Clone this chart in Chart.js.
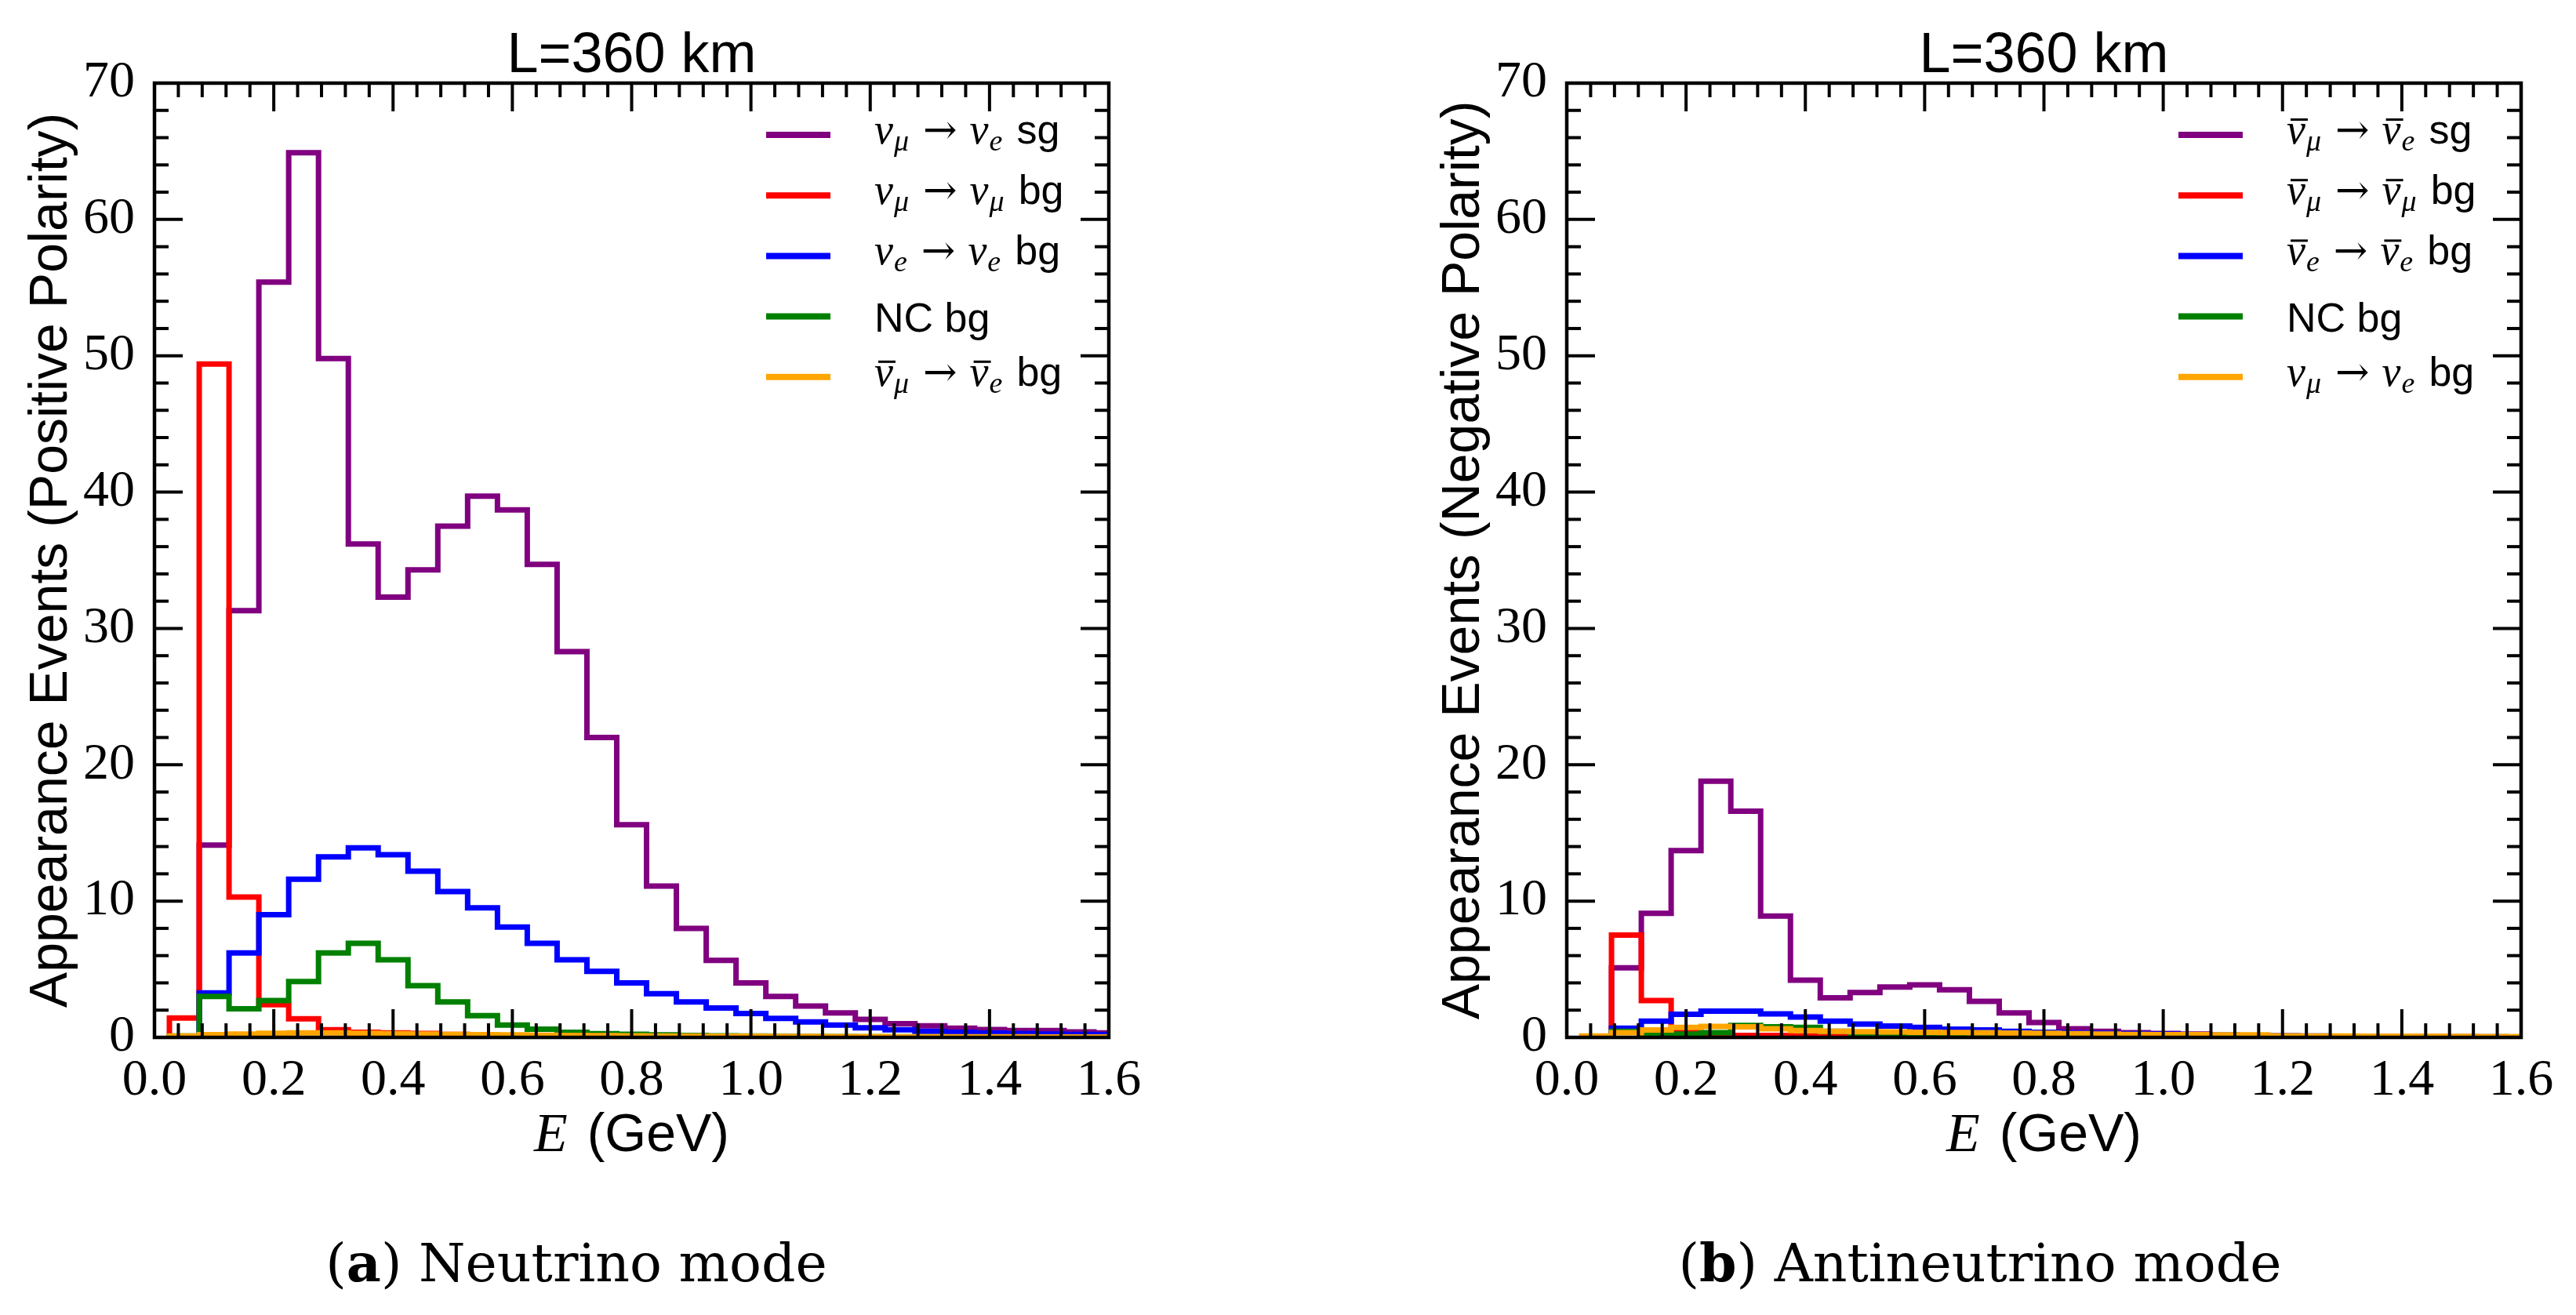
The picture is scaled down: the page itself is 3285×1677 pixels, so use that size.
<!DOCTYPE html>
<html>
<head>
<meta charset="utf-8">
<script src="https://cdn.jsdelivr.net/npm/chart.js@4.4.1/dist/chart.umd.min.js"></script>
<style>
html, body { margin: 0; padding: 0; background: #fff; }
body { width: 3285px; height: 1677px; position: relative; overflow: hidden; }
canvas { position: absolute; top: 0; }
</style>
</head>
<body>
<canvas id="chartA" width="1642" height="1677" style="left:0px"></canvas>
<canvas id="chartB" width="1643" height="1677" style="left:1642px"></canvas>
<script>
// bin edges of the energy histograms (GeV)
const binEdges = [0.025, 0.075, 0.125, 0.175, 0.225, 0.275, 0.325, 0.375, 0.425, 0.475, 0.525,
  0.575, 0.625, 0.675, 0.725, 0.775, 0.825, 0.875, 0.925, 0.975, 1.025, 1.075, 1.125, 1.175,
  1.225, 1.275, 1.325, 1.375, 1.425, 1.475, 1.525, 1.575, 1.625];

const xTickLabels = ['0.0', '0.2', '0.4', '0.6', '0.8', '1.0', '1.2', '1.4', '1.6'];
const yTickLabels = ['0', '10', '20', '30', '40', '50', '60', '70'];

// (a) neutrino mode
const sigA   = [0, 14.1, 31.3, 55.4, 64.9, 49.8, 36.2, 32.3, 34.3, 37.5, 39.7, 38.7, 34.7, 28.3, 22.0, 15.6,
  11.1, 8.0, 5.65, 4.0, 3.0, 2.3, 1.8, 1.33, 1.0, 0.85, 0.67, 0.58, 0.5, 0.5, 0.4, 0.33];
const numuA  = [1.42, 49.4, 10.3, 2.4, 1.37, 0.56, 0.38, 0.33, 0.29, 0.22, 0.18, 0.15, 0.12, 0.1, 0.08, 0.06,
  0.05, 0.04, 0.03, 0.03, 0.02, 0.02, 0.02, 0.01, 0.01, 0.01, 0.01, 0.01, 0.01, 0.01, 0.01, 0.01];
const nueA   = [0, 3.27, 6.2, 9.0, 11.6, 13.25, 13.9, 13.4, 12.2, 10.7, 9.5, 8.1, 6.9, 5.7, 4.85, 4.0,
  3.2, 2.6, 2.15, 1.75, 1.4, 1.13, 0.9, 0.71, 0.56, 0.44, 0.37, 0.31, 0.27, 0.25, 0.22, 0.2];
const ncA    = [0.1, 3.0, 2.1, 2.7, 4.1, 6.2, 6.9, 5.7, 3.8, 2.6, 1.6, 0.9, 0.6, 0.37, 0.27, 0.23,
  0.18, 0.15, 0.12, 0.1, 0.08, 0.07, 0.06, 0.05, 0.04, 0.04, 0.03, 0.03, 0.03, 0.02, 0.02, 0.02];
const wrongA = [0.1, 0.2, 0.25, 0.3, 0.33, 0.33, 0.3, 0.28, 0.25, 0.22, 0.2, 0.18, 0.16, 0.15, 0.13, 0.12,
  0.1, 0.1, 0.09, 0.08, 0.07, 0.07, 0.06, 0.06, 0.05, 0.05, 0.04, 0.04, 0.04, 0.03, 0.03, 0.03];

// (b) antineutrino mode
const sigB   = [0, 5.1, 9.1, 13.7, 18.8, 16.6, 8.9, 4.2, 2.9, 3.3, 3.7, 3.85, 3.5, 2.65, 1.8, 1.1,
  0.63, 0.44, 0.35, 0.29, 0.25, 0.15, 0.12, 0.1, 0.08, 0.07, 0.06, 0.05, 0.04, 0.04, 0.03, 0.03];
const numuB  = [0, 7.5, 2.7, 0.5, 0.2, 0.15, 0.15, 0.12, 0.1, 0.08, 0.06, 0.05, 0.04, 0.03, 0.03, 0.02,
  0.02, 0.02, 0.01, 0.01, 0.01, 0.01, 0.01, 0.01, 0.01, 0.01, 0.01, 0.01, 0.01, 0.01, 0.01, 0.01];
const nueB   = [0, 0.67, 1.2, 1.7, 1.92, 1.92, 1.73, 1.5, 1.2, 0.98, 0.83, 0.73, 0.6, 0.54, 0.44, 0.37,
  0.33, 0.3, 0.28, 0.25, 0.2, 0.17, 0.14, 0.12, 0.1, 0.08, 0.07, 0.06, 0.05, 0.04, 0.04, 0.03];
const ncB    = [0, 0.44, 0.15, 0.25, 0.35, 0.87, 0.77, 0.73, 0.45, 0.3, 0.2, 0.14, 0.1, 0.08, 0.06, 0.05,
  0.04, 0.03, 0.03, 0.02, 0.02, 0.02, 0.01, 0.01, 0.01, 0.01, 0.01, 0.01, 0.01, 0.01, 0.01, 0.01];
const wrongB = [0.1, 0.35, 0.54, 0.73, 0.8, 0.77, 0.63, 0.5, 0.45, 0.42, 0.4, 0.38, 0.36, 0.34, 0.32, 0.3,
  0.27, 0.24, 0.22, 0.2, 0.2, 0.18, 0.18, 0.12, 0.1, 0.1, 0.09, 0.08, 0.08, 0.07, 0.06, 0.06];

const seriesColors = ['#800080', '#ff0000', '#0000ff', '#008000', '#ffa500'];

const legendA = ['ν_μ → ν_e sg', 'ν_μ → ν_μ bg', 'ν_e → ν_e bg', 'NC bg', 'ν\u0304_μ → ν\u0304_e bg'];
const legendB = ['ν\u0304_μ → ν\u0304_e sg', 'ν\u0304_μ → ν\u0304_μ bg', 'ν\u0304_e → ν\u0304_e bg', 'NC bg', 'ν_μ → ν_e bg'];

// step outline like a matplotlib 'step' histogram
function histPoints(vals) {
  const pts = [{x: binEdges[0], y: 0}];
  vals.forEach((v, i) => pts.push({x: binEdges[i], y: v}));
  pts.push({x: binEdges[binEdges.length - 1], y: vals[vals.length - 1]});
  pts.push({x: binEdges[binEdges.length - 1], y: 0});
  return pts;
}

function line(ctx, x1, y1, x2, y2) {
  ctx.beginPath();
  ctx.moveTo(x1, y1);
  ctx.lineTo(x2, y2);
  ctx.stroke();
}

// legend label like "ν_μ → ν_e sg": greek with subscripts in math italic, words in sans
function drawLabel(ctx, label, x, yMid) {
  const tokens = label.split(' ');
  const hasSub = tokens.some(t => t.includes('_'));
  const base = yMid + (hasSub ? 11 : 19);
  let cx = x;
  ctx.textAlign = 'left';
  ctx.textBaseline = 'alphabetic';
  tokens.forEach(t => {
    if (t.includes('_')) {
      let [sym, sub] = t.split('_');
      const bar = sym.includes('\u0304');
      sym = sym.replace('\u0304', '');
      ctx.font = 'italic 54px "Liberation Serif"';
      ctx.fillText(sym, cx, base);
      const w = ctx.measureText(sym).width;
      if (bar) ctx.fillRect(cx + 5, base - 32, w - 2, 3);
      cx += w + 1;
      ctx.font = 'italic 38px "Liberation Serif"';
      ctx.fillText(sub, cx, base + 9);
      cx += ctx.measureText(sub).width + 18;
    } else if (t === '→') {
      ctx.font = '52px "DejaVu Serif"';
      ctx.fillText(t, cx, base);
      cx += ctx.measureText(t).width + 16;
    } else {
      ctx.font = '52px "Liberation Sans"';
      ctx.fillText(t, cx, base);
      cx += ctx.measureText(t + ' ').width;
    }
  });
}

function figurePlugin(info) {
  return {
    id: 'figure',
    afterDatasetsDraw(chart) {
      const {ctx, chartArea: a, scales: {x, y}} = chart;
      ctx.save();
      ctx.strokeStyle = '#000';
      ctx.lineWidth = 4;
      // inward ticks on all four sides
      for (let i = 0; i <= 40; i++) {
        const px = x.getPixelForValue(i * 0.04);
        const len = i % 5 === 0 ? 36 : 18;
        line(ctx, px, a.bottom, px, a.bottom - len);
        line(ctx, px, a.top, px, a.top + len);
      }
      for (let i = 0; i <= 35; i++) {
        const py = y.getPixelForValue(i * 2);
        const len = i % 5 === 0 ? 36 : 18;
        line(ctx, a.left, py, a.left + len, py);
        line(ctx, a.right, py, a.right - len, py);
      }
      ctx.lineWidth = 4.5;
      ctx.strokeRect(a.left, a.top, a.right - a.left, a.bottom - a.top);
      ctx.restore();
    },
    afterDraw(chart) {
      const {ctx, chartArea: a} = chart;
      const cx = (a.left + a.right) / 2;
      ctx.save();
      ctx.fillStyle = '#000';

      // title
      ctx.font = '72px "Liberation Sans"';
      ctx.textAlign = 'center';
      ctx.fillText(info.title, cx, 92);

      // x axis title: italic E + (GeV)
      ctx.textAlign = 'left';
      ctx.font = 'italic 70px "Liberation Serif"';
      const wE = ctx.measureText('E').width;
      ctx.font = '68px "Liberation Sans"';
      const rest = ' (GeV)';
      const wR = ctx.measureText(rest).width;
      let sx = cx - (wE + wR + 6) / 2;
      ctx.font = 'italic 70px "Liberation Serif"';
      ctx.fillText('E', sx, 1468);
      ctx.font = '68px "Liberation Sans"';
      ctx.fillText(rest, sx + wE + 6, 1468);

      // legend
      info.legend.forEach((lab, i) => {
        const ly = a.top + 66 + 77.2 * i;
        ctx.strokeStyle = seriesColors[i];
        ctx.lineWidth = 8;
        line(ctx, a.right - 437, ly, a.right - 355, ly);
        drawLabel(ctx, lab, a.right - 299, ly);
      });

      // caption
      const capFont = '68px "DejaVu Serif"';
      const capBold = 'bold 68px "DejaVu Serif"';
      ctx.font = capFont;
      const w1 = ctx.measureText('(').width;
      const w3 = ctx.measureText(info.caption[1]).width;
      ctx.font = capBold;
      const w2 = ctx.measureText(info.caption[0]).width;
      let px = info.captionX - (w1 + w2 + w3) / 2;
      ctx.font = capFont;
      ctx.fillText('(', px, 1634);
      ctx.font = capBold;
      ctx.fillText(info.caption[0], px + w1, 1634);
      ctx.font = capFont;
      ctx.fillText(info.caption[1], px + w1 + w2, 1634);
      ctx.restore();
    }
  };
}

function makeChart(id, series, info) {
  const datasets = series.map((vals, i) => ({
    data: histPoints(vals),
    borderColor: seriesColors[i],
    stepped: 'before',
    fill: false,
    order: 5 - i
  }));
  const serif = {family: 'Liberation Serif', size: 66};
  return new Chart(document.getElementById(id), {
    type: 'line',
    data: {datasets},
    options: {
      responsive: false,
      animation: false,
      devicePixelRatio: 1,
      layout: {padding: {left: info.padLeft, right: info.padRight, top: 106, bottom: 197}},
      plugins: {legend: {display: false}, tooltip: {enabled: false}},
      elements: {
        point: {radius: 0},
        line: {borderWidth: 7, tension: 0, borderJoinStyle: 'miter', borderCapStyle: 'butt'}
      },
      scales: {
        x: {
          type: 'linear', min: 0, max: 1.6,
          afterFit(s) { s.height = 157; },
          grid: {display: false},
          border: {display: false},
          ticks: {stepSize: 0.2, autoSkip: false, maxRotation: 0, padding: 8, color: '#000', font: serif,
            callback: (v, i) => xTickLabels[i]}
        },
        y: {
          min: 0, max: 70,
          afterFit(s) { s.width = 197; },
          grid: {display: false},
          border: {display: false},
          ticks: {stepSize: 10, padding: 17, color: '#000', font: serif,
            callback: (v, i) => yTickLabels[i]},
          title: {display: true, text: info.yTitle, color: '#000',
            font: {family: 'Liberation Sans', size: 68}, padding: {top: 25, bottom: 0}}
        }
      }
    },
    plugins: [figurePlugin(info)]
  });
}

makeChart('chartA', [sigA, numuA, nueA, ncA, wrongA], {
  padLeft: 0, padRight: 228,
  title: 'L=360 km',
  yTitle: 'Appearance Events (Positive Polarity)',
  legend: legendA,
  caption: ['a', ') Neutrino mode'],
  captionX: 735
});

makeChart('chartB', [sigB, numuB, nueB, ncB, wrongB], {
  padLeft: 159, padRight: 70,
  title: 'L=360 km',
  yTitle: 'Appearance Events (Negative Polarity)',
  legend: legendB,
  caption: ['b', ') Antineutrino mode'],
  captionX: 2525 - 1642
});
</script>
</body>
</html>
